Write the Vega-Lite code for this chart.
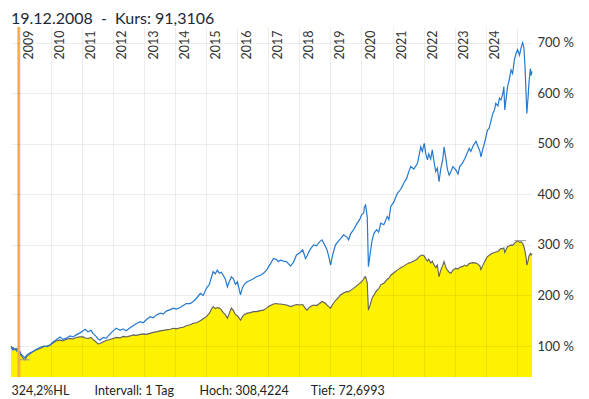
{
  "$schema": "https://vega.github.io/schema/vega-lite/v6.json",
  "width": 521,
  "height": 350,
  "autosize": {"type": "none"},
  "padding": {"left": 11, "top": 27, "right": 57, "bottom": 22},
  "background": "white",
  "title": {"text": "19.12.2008\u00a0\u00a0-\u00a0\u00a0Kurs: 91,3106", "anchor": "start", "frame": "group", "orient": "top", "offset": 5, "dy": 19, "baseline": "alphabetic", "font": "Lato", "fontSize": 16, "fontWeight": "normal", "color": "#1b2836"},
  "config": {"view": {"stroke": null}, "font": "Lato"},
  "datasets": {
    "s": [
      {"d":"2008-09-20","a":100,"b":95},{"d":"2008-10-13","a":92,"b":97},{"d":"2008-11-06","a":95,"b":93},{"d":"2008-11-28","a":90,"b":95},{"d":"2008-12-23","a":93,"b":90},
      {"d":"2009-01-16","a":84,"b":82},{"d":"2009-02-09","a":80,"b":76},{"d":"2009-03-02","a":77,"b":72.7},{"d":"2009-03-25","a":82,"b":80},{"d":"2009-04-28","a":86,"b":84},
      {"d":"2009-06-05","a":89,"b":89},{"d":"2009-07-10","a":93,"b":92},{"d":"2009-08-26","a":97,"b":95},{"d":"2009-10-13","a":100,"b":99},{"d":"2009-11-18","a":99,"b":100},
      {"d":"2009-12-23","a":102,"b":102},{"d":"2010-01-27","a":108,"b":106},{"d":"2010-03-02","a":112,"b":110},{"d":"2010-04-19","a":118,"b":112},{"d":"2010-05-23","a":113,"b":110},
      {"d":"2010-06-28","a":115,"b":113},{"d":"2010-08-15","a":120,"b":115},{"d":"2010-09-20","a":118,"b":114},{"d":"2010-10-25","a":122,"b":117},{"d":"2010-12-11","a":126,"b":118},
      {"d":"2011-01-16","a":130,"b":118},{"d":"2011-02-09","a":133,"b":116},{"d":"2011-03-14","a":128,"b":115},{"d":"2011-04-19","a":131,"b":117},{"d":"2011-05-12","a":125,"b":113},
      {"d":"2011-06-17","a":119,"b":108},{"d":"2011-07-10","a":114,"b":104},{"d":"2011-08-03","a":112,"b":105},{"d":"2011-09-08","a":117,"b":108},{"d":"2011-10-13","a":115,"b":111},
      {"d":"2011-11-28","a":124,"b":113},{"d":"2012-01-04","a":130,"b":115},{"d":"2012-02-09","a":135,"b":117},{"d":"2012-03-25","a":131,"b":116},{"d":"2012-04-28","a":134,"b":119},
      {"d":"2012-06-05","a":130,"b":118},{"d":"2012-07-21","a":136,"b":120},{"d":"2012-08-26","a":140,"b":122},{"d":"2012-10-01","a":144,"b":121},{"d":"2012-11-18","a":148,"b":123},
      {"d":"2012-12-23","a":146,"b":124},{"d":"2013-01-27","a":152,"b":123},{"d":"2013-03-14","a":158,"b":125},{"d":"2013-04-19","a":156,"b":127},{"d":"2013-05-23","a":161,"b":128},
      {"d":"2013-07-10","a":165,"b":130},{"d":"2013-08-15","a":163,"b":131},{"d":"2013-09-20","a":169,"b":132},{"d":"2013-11-06","a":172,"b":133},{"d":"2013-12-11","a":175,"b":135},
      {"d":"2014-01-16","a":173,"b":134},{"d":"2014-03-02","a":176,"b":136},{"d":"2014-04-07","a":180,"b":137},{"d":"2014-05-12","a":184,"b":140},{"d":"2014-06-28","a":184,"b":142},
      {"d":"2014-08-03","a":188,"b":145},{"d":"2014-09-08","a":194,"b":146},{"d":"2014-10-25","a":204,"b":150},{"d":"2014-11-28","a":200,"b":154},{"d":"2015-01-04","a":214,"b":158},
      {"d":"2015-02-09","a":222,"b":165},{"d":"2015-03-02","a":235,"b":172},{"d":"2015-03-25","a":247,"b":178},{"d":"2015-04-19","a":243,"b":174},{"d":"2015-05-12","a":250,"b":176},
      {"d":"2015-06-05","a":244,"b":175},{"d":"2015-06-28","a":246,"b":172},{"d":"2015-07-21","a":240,"b":166},{"d":"2015-08-15","a":232,"b":162},{"d":"2015-09-08","a":217,"b":155},
      {"d":"2015-10-01","a":228,"b":165},{"d":"2015-10-25","a":237,"b":175},{"d":"2015-11-18","a":233,"b":170},{"d":"2015-12-11","a":222,"b":162},{"d":"2016-01-04","a":227,"b":160},
      {"d":"2016-01-21","a":215,"b":156},{"d":"2016-02-09","a":201,"b":151},{"d":"2016-03-02","a":215,"b":158},{"d":"2016-03-25","a":222,"b":162},{"d":"2016-04-28","a":227,"b":165},
      {"d":"2016-06-05","a":230,"b":166},{"d":"2016-07-10","a":233,"b":168},{"d":"2016-08-15","a":237,"b":168},{"d":"2016-10-01","a":240,"b":170},{"d":"2016-11-06","a":244,"b":171},
      {"d":"2016-12-11","a":250,"b":175},{"d":"2017-01-04","a":257,"b":178},{"d":"2017-01-27","a":263,"b":180},{"d":"2017-03-02","a":273,"b":183},{"d":"2017-04-07","a":271,"b":184},
      {"d":"2017-04-28","a":267,"b":183},{"d":"2017-05-23","a":270,"b":183},{"d":"2017-06-28","a":268,"b":182},{"d":"2017-08-03","a":267,"b":181},{"d":"2017-09-20","a":258,"b":178},
      {"d":"2017-10-25","a":266,"b":180},{"d":"2017-11-28","a":280,"b":182},{"d":"2018-01-04","a":284,"b":181},{"d":"2018-02-09","a":290,"b":182},{"d":"2018-02-26","a":282,"b":178},
      {"d":"2018-03-14","a":273,"b":174},{"d":"2018-04-01","a":278,"b":171},{"d":"2018-04-19","a":285,"b":175},{"d":"2018-05-12","a":292,"b":178},{"d":"2018-06-17","a":300,"b":181},
      {"d":"2018-07-21","a":298,"b":180},{"d":"2018-08-26","a":306,"b":184},{"d":"2018-09-25","a":310,"b":188},{"d":"2018-10-19","a":302,"b":186},{"d":"2018-11-06","a":296,"b":184},
      {"d":"2018-11-23","a":290,"b":181},{"d":"2018-12-11","a":278,"b":178},{"d":"2019-01-04","a":260,"b":175},{"d":"2019-01-27","a":280,"b":182},{"d":"2019-03-02","a":300,"b":190},
      {"d":"2019-04-07","a":308,"b":196},{"d":"2019-04-28","a":312,"b":201},{"d":"2019-06-05","a":320,"b":205},{"d":"2019-07-16","a":315,"b":208},{"d":"2019-08-03","a":310,"b":207},
      {"d":"2019-08-26","a":322,"b":210},{"d":"2019-10-01","a":330,"b":214},{"d":"2019-11-12","a":343,"b":220},{"d":"2019-12-11","a":350,"b":224},{"d":"2020-01-04","a":360,"b":228},
      {"d":"2020-01-27","a":363,"b":232},{"d":"2020-02-05","a":375,"b":236},{"d":"2020-02-19","a":379,"b":237},{"d":"2020-03-09","a":355,"b":225},{"d":"2020-03-23","a":257,"b":171},
      {"d":"2020-04-10","a":280,"b":180},{"d":"2020-05-06","a":310,"b":195},{"d":"2020-05-27","a":323,"b":201},{"d":"2020-06-28","a":330,"b":210},{"d":"2020-07-21","a":325,"b":213},
      {"d":"2020-08-15","a":343,"b":221},{"d":"2020-09-20","a":340,"b":224},{"d":"2020-10-30","a":356,"b":232},{"d":"2020-11-18","a":350,"b":234},{"d":"2020-12-11","a":376,"b":240},
      {"d":"2021-01-16","a":385,"b":245},{"d":"2021-02-26","a":402,"b":250},{"d":"2021-04-07","a":410,"b":255},{"d":"2021-05-12","a":422,"b":258},{"d":"2021-06-17","a":432,"b":262},
      {"d":"2021-07-10","a":445,"b":264},{"d":"2021-08-03","a":455,"b":265},{"d":"2021-09-08","a":450,"b":268},{"d":"2021-10-19","a":461,"b":272},{"d":"2021-11-06","a":475,"b":276},
      {"d":"2021-11-28","a":494,"b":279},{"d":"2021-12-17","a":485,"b":280},{"d":"2022-01-08","a":501,"b":278},{"d":"2022-01-27","a":480,"b":272},{"d":"2022-02-15","a":468,"b":268},
      {"d":"2022-03-02","a":480,"b":272},{"d":"2022-03-25","a":470,"b":264},{"d":"2022-04-13","a":488,"b":268},{"d":"2022-04-28","a":470,"b":262},{"d":"2022-05-23","a":445,"b":255},
      {"d":"2022-06-11","a":452,"b":260},{"d":"2022-07-01","a":425,"b":237},{"d":"2022-07-21","a":450,"b":250},{"d":"2022-08-15","a":470,"b":260},{"d":"2022-08-29","a":494,"b":267},
      {"d":"2022-09-20","a":470,"b":255},{"d":"2022-10-07","a":450,"b":250},{"d":"2022-10-28","a":438,"b":246},{"d":"2022-11-18","a":445,"b":244},{"d":"2022-12-11","a":455,"b":250},
      {"d":"2023-01-16","a":448,"b":254},{"d":"2023-02-09","a":440,"b":252},{"d":"2023-03-02","a":455,"b":256},{"d":"2023-04-01","a":461,"b":257},{"d":"2023-04-28","a":470,"b":260},
      {"d":"2023-05-23","a":480,"b":258},{"d":"2023-06-20","a":491,"b":263},{"d":"2023-07-10","a":485,"b":264},{"d":"2023-08-03","a":495,"b":265},{"d":"2023-09-08","a":505,"b":264},
      {"d":"2023-10-01","a":495,"b":262},{"d":"2023-10-25","a":485,"b":258},{"d":"2023-11-06","a":474,"b":251},{"d":"2023-11-28","a":490,"b":260},{"d":"2023-12-23","a":505,"b":268},
      {"d":"2024-01-21","a":527,"b":277},{"d":"2024-02-09","a":530,"b":279},{"d":"2024-03-02","a":545,"b":282},{"d":"2024-03-25","a":560,"b":284},{"d":"2024-04-13","a":567,"b":285},
      {"d":"2024-04-28","a":580,"b":286},{"d":"2024-05-23","a":575,"b":287},{"d":"2024-06-11","a":590,"b":290},{"d":"2024-06-28","a":587,"b":293},{"d":"2024-07-21","a":600,"b":292},
      {"d":"2024-08-01","a":613,"b":294},{"d":"2024-08-12","a":567,"b":285},{"d":"2024-09-14","a":613,"b":297},{"d":"2024-10-01","a":625,"b":298},{"d":"2024-10-25","a":646,"b":300},
      {"d":"2024-11-12","a":639,"b":299},{"d":"2024-12-03","a":666,"b":303},{"d":"2024-12-23","a":679,"b":306},{"d":"2025-01-10","a":686,"b":308.4},{"d":"2025-02-01","a":675,"b":305},
      {"d":"2025-02-20","a":690,"b":306},{"d":"2025-03-10","a":700,"b":303},{"d":"2025-03-25","a":690,"b":297},{"d":"2025-04-07","a":652,"b":287},{"d":"2025-04-19","a":600,"b":275},
      {"d":"2025-04-28","a":560,"b":260},{"d":"2025-05-12","a":590,"b":268},{"d":"2025-05-23","a":620,"b":278},{"d":"2025-06-09","a":649,"b":283},{"d":"2025-06-17","a":635,"b":280},
      {"d":"2025-06-28","a":643,"b":283}
    ],
    "m": [
      {"d": "2009-01-04", "d2": "2009-04-28", "v": 72.7},
      {"d": "2024-12-03", "d2": "2025-04-19", "v": 308.4}
    ],
    "o": [{"d": "2008-12-19"}]
  },
  "encoding": {
    "x": {
      "field": "d", "type": "temporal",
      "scale": {"domain": [{"year": 2008, "month": 9, "date": 20, "utc": true}, {"year": 2025, "month": 6, "date": 28, "utc": true}], "nice": false},
      "axis": {
        "orient": "top",
        "values": [
          {"year": 2009, "month": 1, "date": 1, "utc": true}, {"year": 2010, "month": 1, "date": 1, "utc": true},
          {"year": 2011, "month": 1, "date": 1, "utc": true}, {"year": 2012, "month": 1, "date": 1, "utc": true},
          {"year": 2013, "month": 1, "date": 1, "utc": true}, {"year": 2014, "month": 1, "date": 1, "utc": true},
          {"year": 2015, "month": 1, "date": 1, "utc": true}, {"year": 2016, "month": 1, "date": 1, "utc": true},
          {"year": 2017, "month": 1, "date": 1, "utc": true}, {"year": 2018, "month": 1, "date": 1, "utc": true},
          {"year": 2019, "month": 1, "date": 1, "utc": true}, {"year": 2020, "month": 1, "date": 1, "utc": true},
          {"year": 2021, "month": 1, "date": 1, "utc": true}, {"year": 2022, "month": 1, "date": 1, "utc": true},
          {"year": 2023, "month": 1, "date": 1, "utc": true}, {"year": 2024, "month": 1, "date": 1, "utc": true},
          {"year": 2025, "month": 1, "date": 1, "utc": true}
        ],
        "labelExpr": "utcFormat(datum.value, '%Y') < '2025' ? utcFormat(datum.value, '%Y') : ''",
        "labelAngle": -90,
        "labelAlign": "right",
        "labelBaseline": "alphabetic",
        "labelPadding": -3,
        "labelOffset": 13,
        "labelFont": "Lato",
        "labelFontSize": 12.5,
        "labelColor": "#333333",
        "labelOverlap": false,
        "labelFlush": false,
        "labelBound": false,
        "ticks": false,
        "tickSize": 0,
        "domain": false,
        "grid": true,
        "gridColor": "#000000",
        "gridOpacity": 0.07,
        "zindex": 1,
        "title": "324,2%HL\u00a0\u00a0\u00a0\u00a0\u00a0\u00a0\u00a0\u00a0Intervall: 1 Tag\u00a0\u00a0\u00a0\u00a0\u00a0\u00a0\u00a0\u00a0Hoch: 308,4224\u00a0\u00a0\u00a0\u00a0\u00a0\u00a0\u00a0Tief: 72,6993",
        "titleX": 0,
        "titleY": 367,
        "titleAlign": "left",
        "titleAnchor": "start",
        "titleBaseline": "alphabetic",
        "titleAngle": 0,
        "titleFont": "Lato",
        "titleFontSize": 12.5,
        "titleFontWeight": "normal",
        "titleColor": "#222222"
      }
    },
    "y": {
      "field": "b", "type": "quantitative",
      "scale": {"domain": [38.7, 731], "zero": false, "nice": false},
      "axis": {
        "orient": "right",
        "values": [100, 200, 300, 400, 500, 600, 700],
        "labelExpr": "datum.value + ' %'",
        "labelPadding": 5,
        "ticks": false,
        "domain": false,
        "grid": true,
        "gridColor": "#000000",
        "gridOpacity": 0.07,
        "zindex": 1,
        "title": null,
        "labelFont": "Lato",
        "labelFontSize": 13,
        "labelColor": "#333333"
      }
    }
  },
  "layer": [
    {
      "data": {"name": "s"},
      "mark": {"type": "area", "color": "#fff200", "opacity": 1, "clip": true}
    },
    {
      "data": {"name": "s"},
      "mark": {"type": "line", "color": "#5f5f5f", "strokeWidth": 1.1}
    },
    {
      "data": {"name": "s"},
      "mark": {"type": "line", "color": "#2479d0", "strokeWidth": 1.2},
      "encoding": {"y": {"field": "a", "type": "quantitative"}}
    },
    {
      "data": {"name": "m"},
      "mark": {"type": "rule", "color": "#999999", "strokeWidth": 1},
      "encoding": {
        "x2": {"field": "d2"},
        "y": {"field": "v", "type": "quantitative"}
      }
    },
    {
      "data": {"name": "o"},
      "mark": {"type": "rule", "color": "#f5ac48", "strokeWidth": 2.5},
      "encoding": {"y": null}
    }
  ]
}
